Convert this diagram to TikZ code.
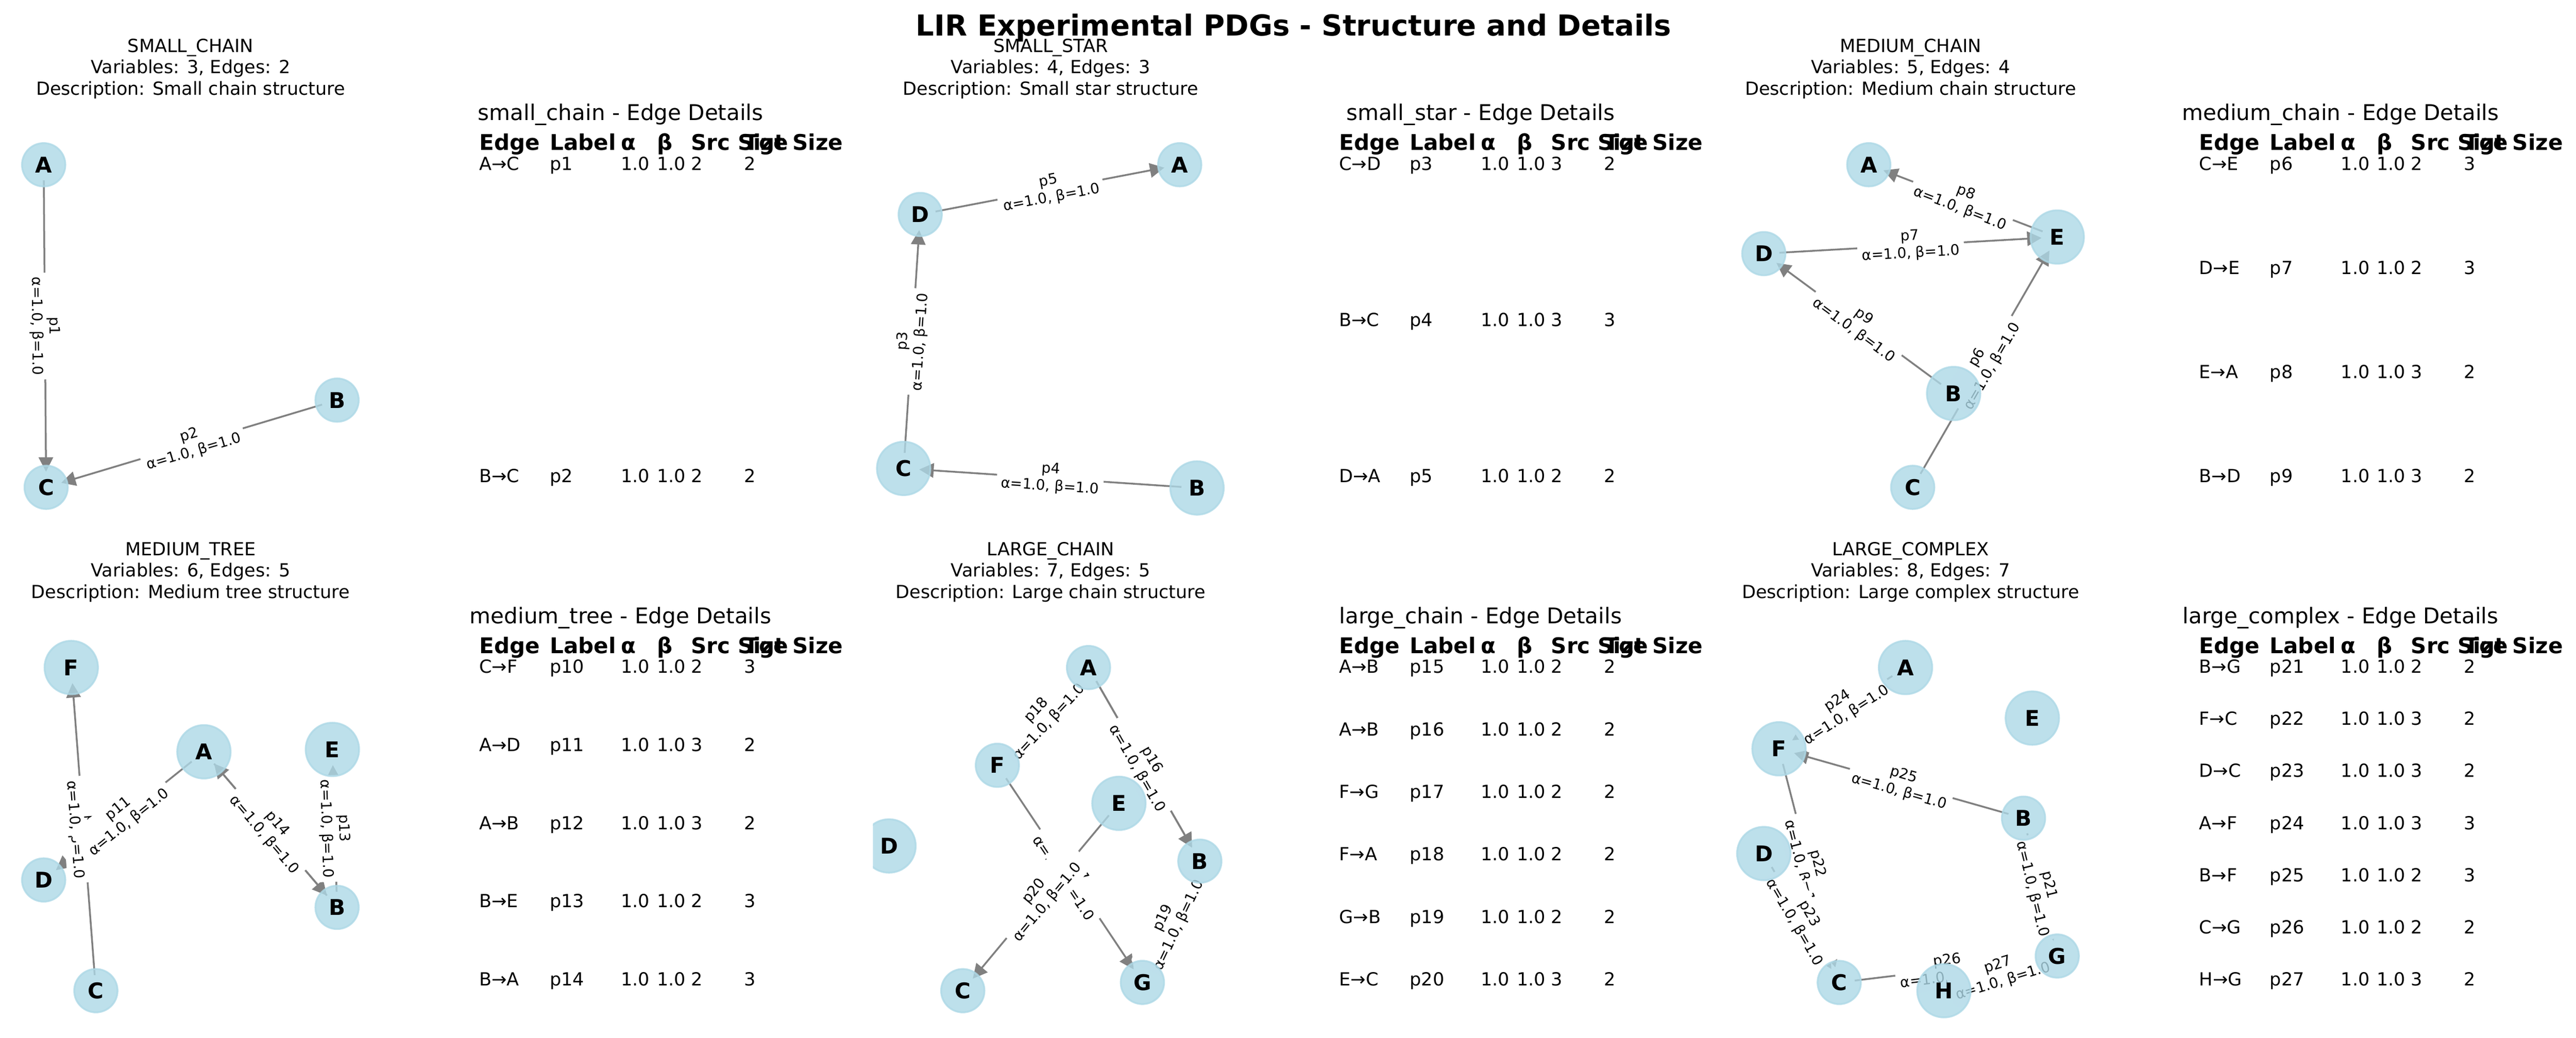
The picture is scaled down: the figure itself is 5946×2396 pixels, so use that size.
\documentclass[tikz,border=0pt]{standalone}
\usepackage{fontspec}
\setmainfont{DejaVu Sans}
\usetikzlibrary{arrows.meta}
\definecolor{nodeblue}{RGB}{173,216,230}
\definecolor{edgegray}{RGB}{128,128,128}
\pgfdeclarelayer{edgelayer}
\pgfdeclarelayer{labellayer}
\pgfsetlayers{edgelayer,labellayer,main}

\newcommand\EdgeLn[2]{\draw[edge] (#1.center) -- (#2.center);}
\newcommand\EdgeLb[4]{\path (#2.center) -- (#3.center) node[elabel] (#1) {#4\\α=1.0, β=1.0};}
\newcommand\GTitle[6]{%
  \node[gtitle] (#1a) at (#2,#3) {#4};
  \node[gtitle] (#1b) at (#2,#3+49) {#5};
  \node[gtitle] (#1c) at (#2,#3+98.5) {#6};}
\newcommand\TableHead[4]{%
  \node[ttitle] (#1t) at (#2,#3) {#4 - Edge Details};
  \node[thead] (#1h1) at (#2-327,#3+69) {Edge};
  \node[thead] (#1h2) at (#2-164,#3+69) {Label};
  \node[thead] (#1h3) at (#2+0,#3+69) {α};
  \node[thead] (#1h4) at (#2+83,#3+69) {β};
  \node[thead] (#1h5) at (#2+162,#3+69) {Src Size};
  \node[thead] (#1h6) at (#2+285,#3+69) {Tgt Size};}
\newcommand\TRow[7]{%
  \node[tcell] (#1e) at (#2-327,#3) {#4};
  \node[tcell] (#1l) at (#2-164,#3) {#5};
  \node[tcell] (#1a) at (#2+0,#3) {1.0};
  \node[tcell] (#1b) at (#2+83,#3) {1.0};
  \node[tcell] (#1s) at (#2+162,#3) {#6};
  \node[tcell] (#1t) at (#2+284,#3) {#7};}

\begin{document}
\begin{tikzpicture}[x=0.24pt,y=-0.24pt,
  vn/.style={circle, inner sep=0pt, minimum size=24pt, fill=nodeblue, draw=nodeblue,
    fill opacity=0.8, draw opacity=0.8, text opacity=1, line width=1pt,
    text=black, font=\fontsize{12}{14}\selectfont\bfseries},
  vnb/.style={vn, minimum size=29.6pt},
  edge/.style={draw=edgegray, line width=1pt, shorten <=8.66pt, shorten >=8.66pt,
    -{Triangle[length=8pt,width=8pt]}},
  elabel/.style={midway, sloped, fill=white, rounded corners=2pt, inner sep=2.4pt,
    align=center, text=black, font=\fontsize{8}{9.6}\selectfont},
  gtitle/.style={anchor=base, inner sep=0pt, font=\fontsize{10}{12}\selectfont},
  ttitle/.style={anchor=base, inner sep=0pt, font=\fontsize{12}{14.4}\selectfont},
  thead/.style={anchor=base west, inner sep=0pt, font=\fontsize{12}{14.4}\selectfont\bfseries},
  tcell/.style={anchor=base west, inner sep=0pt, font=\fontsize{10}{12}\selectfont},
  mtitle/.style={anchor=base, inner sep=0pt, font=\fontsize{16}{19.2}\selectfont\bfseries}
]
\useasboundingbox (0,0) rectangle (5946,2396);

% ---------------- nodes ----------------
% small_chain
\node[vn] (aA) at (100.8,380.4) {A};
\node[vn] (aB) at (778,923.7) {B};
\node[vn] (aC) at (106.5,1125) {C};
% small_star
\node[vn] (bA) at (2723,380.3) {A};
\node[vn] (bD) at (2124,495.1) {D};
\node[vnb] (bC) at (2085.8,1081.4) {C};
\node[vnb] (bB) at (2763,1126.5) {B};
% medium_chain
\node[vn] (cA) at (4313.5,380.3) {A};
\node[vnb] (cE) at (4748.5,547.2) {E};
\node[vn] (cD) at (4071.2,585.5) {D};
\node[vnb] (cB) at (4509.3,908.4) {B};
\node[vn] (cC) at (4414.9,1125) {C};
% medium_tree
\node[vnb] (dF) at (164.5,1541) {F};
\node[vnb] (dA) at (470.7,1735.5) {A};
\node[vnb] (dE) at (767.2,1730.1) {E};
\node[vn] (dD) at (100.8,2031.4) {D};
\node[vn] (dB) at (778,2094.7) {B};
\node[vn] (dC) at (221.3,2287) {C};
% large_chain
\node[vn] (eA) at (2512.5,1541) {A};
\node[vn] (eF) at (2302.1,1766.7) {F};
\node[vnb] (eE) at (2582.7,1854.5) {E};
\begin{scope}
  \clip (2015,1200) rectangle (2840,2396);
  \node[vnb] (eD) at (2052,1952.9) {D};
\end{scope}
\node[vn] (eB) at (2769.5,1988) {B};
\node[vn] (eC) at (2222.3,2287) {C};
\node[vn] (eG) at (2636.9,2267.9) {G};
% large_complex
\node[vnb] (fA) at (4398.3,1541) {A};
\node[vnb] (fE) at (4691,1657.7) {E};
\node[vnb] (fF) at (4106.3,1728.6) {F};
\node[vn] (fB) at (4670.7,1888.8) {B};
\node[vnb] (fD) at (4071.2,1970.4) {D};
\node[vn] (fG) at (4748.5,2207) {G};
\node[vn] (fC) at (4245.3,2268) {C};
\node[vnb] (fH) at (4487,2287) {H};

% ---------------- edges ----------------
\begin{pgfonlayer}{edgelayer}
\EdgeLn{aA}{aC} \EdgeLn{aB}{aC}
\EdgeLn{bC}{bD} \EdgeLn{bB}{bC} \EdgeLn{bD}{bA}
\EdgeLn{cC}{cE} \EdgeLn{cD}{cE} \EdgeLn{cE}{cA} \EdgeLn{cB}{cD}
\EdgeLn{dC}{dF} \EdgeLn{dA}{dD} \EdgeLn{dA}{dB} \EdgeLn{dB}{dE} \EdgeLn{dB}{dA}
\EdgeLn{eA}{eB} \EdgeLn{eA}{eB} \EdgeLn{eF}{eG} \EdgeLn{eF}{eA} \EdgeLn{eG}{eB} \EdgeLn{eE}{eC}
\EdgeLn{fB}{fG} \EdgeLn{fF}{fC} \EdgeLn{fD}{fC} \EdgeLn{fA}{fF} \EdgeLn{fB}{fF} \EdgeLn{fC}{fG} \EdgeLn{fH}{fG}
\end{pgfonlayer}

% ---------------- edge labels ----------------
\begin{pgfonlayer}{labellayer}
\EdgeLb{l1}{aA}{aC}{p1} \EdgeLb{l2}{aB}{aC}{p2}
\EdgeLb{l3}{bC}{bD}{p3} \EdgeLb{l4}{bB}{bC}{p4} \EdgeLb{l5}{bD}{bA}{p5}
\EdgeLb{l6}{cC}{cE}{p6} \EdgeLb{l7}{cD}{cE}{p7} \EdgeLb{l8}{cE}{cA}{p8} \EdgeLb{l9}{cB}{cD}{p9}
\EdgeLb{l10}{dC}{dF}{p10} \EdgeLb{l11}{dA}{dD}{p11} \EdgeLb{l12}{dA}{dB}{p12}
\EdgeLb{l13}{dB}{dE}{p13} \EdgeLb{l14}{dB}{dA}{p14}
\EdgeLb{l15}{eA}{eB}{p15} \EdgeLb{l16}{eA}{eB}{p16} \EdgeLb{l17}{eF}{eG}{p17}
\EdgeLb{l18}{eF}{eA}{p18} \EdgeLb{l19}{eG}{eB}{p19} \EdgeLb{l20}{eE}{eC}{p20}
\EdgeLb{l21}{fB}{fG}{p21} \EdgeLb{l22}{fF}{fC}{p22} \EdgeLb{l23}{fD}{fC}{p23}
\EdgeLb{l24}{fA}{fF}{p24} \EdgeLb{l25}{fB}{fF}{p25} \EdgeLb{l26}{fC}{fG}{p26}
\EdgeLb{l27}{fH}{fG}{p27}
\end{pgfonlayer}

% ---------------- graph titles ----------------
\GTitle{ga}{440}{121}{SMALL\_CHAIN}{Variables: 3, Edges: 2}{Description: Small chain structure}
\GTitle{gb}{2425}{121}{SMALL\_STAR}{Variables: 4, Edges: 3}{Description: Small star structure}
\GTitle{gc}{4410}{121}{MEDIUM\_CHAIN}{Variables: 5, Edges: 4}{Description: Medium chain structure}
\GTitle{gd}{440}{1282.5}{MEDIUM\_TREE}{Variables: 6, Edges: 5}{Description: Medium tree structure}
\GTitle{ge}{2425}{1282.5}{LARGE\_CHAIN}{Variables: 7, Edges: 5}{Description: Large chain structure}
\GTitle{gf}{4410}{1282.5}{LARGE\_COMPLEX}{Variables: 8, Edges: 7}{Description: Large complex structure}

% ---------------- tables ----------------
\TableHead{ta}{1432.5}{278}{small\_chain}
\TRow{ta1}{1432.5}{392.6}{A→C}{p1}{2}{2}
\TRow{ta2}{1432.5}{1114}{B→C}{p2}{2}{2}

\TableHead{tb}{3417.5}{278}{small\_star}
\TRow{tb1}{3417.5}{392.6}{C→D}{p3}{3}{2}
\TRow{tb2}{3417.5}{753.3}{B→C}{p4}{3}{3}
\TRow{tb3}{3417.5}{1114}{D→A}{p5}{2}{2}

\TableHead{tc}{5402.5}{278}{medium\_chain}
\TRow{tc1}{5402.5}{392.6}{C→E}{p6}{2}{3}
\TRow{tc2}{5402.5}{633.1}{D→E}{p7}{2}{3}
\TRow{tc3}{5402.5}{873.5}{E→A}{p8}{3}{2}
\TRow{tc4}{5402.5}{1114}{B→D}{p9}{3}{2}

\TableHead{td}{1432.5}{1439.5}{medium\_tree}
\TRow{td1}{1432.5}{1554}{C→F}{p10}{2}{3}
\TRow{td2}{1432.5}{1734.4}{A→D}{p11}{3}{2}
\TRow{td3}{1432.5}{1914.8}{A→B}{p12}{3}{2}
\TRow{td4}{1432.5}{2095.1}{B→E}{p13}{2}{3}
\TRow{td5}{1432.5}{2275.5}{B→A}{p14}{2}{3}

\TableHead{te}{3417.5}{1439.5}{large\_chain}
\TRow{te1}{3417.5}{1554}{A→B}{p15}{2}{2}
\TRow{te2}{3417.5}{1698.3}{A→B}{p16}{2}{2}
\TRow{te3}{3417.5}{1842.6}{F→G}{p17}{2}{2}
\TRow{te4}{3417.5}{1986.9}{F→A}{p18}{2}{2}
\TRow{te5}{3417.5}{2131.2}{G→B}{p19}{2}{2}
\TRow{te6}{3417.5}{2275.5}{E→C}{p20}{3}{2}

\TableHead{tf}{5402.5}{1439.5}{large\_complex}
\TRow{tf1}{5402.5}{1554}{B→G}{p21}{2}{2}
\TRow{tf2}{5402.5}{1674.25}{F→C}{p22}{3}{2}
\TRow{tf3}{5402.5}{1794.5}{D→C}{p23}{3}{2}
\TRow{tf4}{5402.5}{1914.75}{A→F}{p24}{3}{3}
\TRow{tf5}{5402.5}{2035}{B→F}{p25}{2}{3}
\TRow{tf6}{5402.5}{2155.25}{C→G}{p26}{2}{2}
\TRow{tf7}{5402.5}{2275.5}{H→G}{p27}{3}{2}

% ---------------- main title ----------------
\node[mtitle] (main) at (2986,82.6) {LIR Experimental PDGs - Structure and Details};
\end{tikzpicture}
\end{document}
